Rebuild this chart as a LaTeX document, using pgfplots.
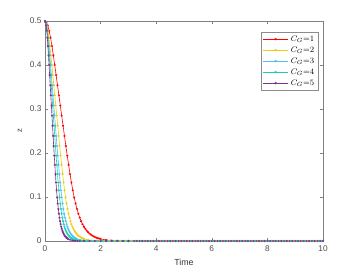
\documentclass[border=0pt]{standalone}
\usepackage{pgfplots}
\pgfplotsset{compat=1.18}
\usepackage{fontspec}
\newfontfamily\arial{Liberation Sans}
\definecolor{cR}{rgb}{1,0,0}
\definecolor{cY}{rgb}{0.93,0.80,0.05}
\definecolor{cC}{rgb}{0.30,0.75,0.93}
\definecolor{cT}{rgb}{0.10,0.82,0.70}
\definecolor{cP}{rgb}{0.494,0.184,0.556}
\begin{document}
\begin{tikzpicture}[x=1pt,y=1pt]
\useasboundingbox (-45,-34) rectangle (300,241);
\begin{axis}[at={(0,0)}, anchor=south west, scale only axis,
  width=278pt, height=220pt,
  xmin=0, xmax=10, ymin=0, ymax=0.5,
  xtick={0,2,4,6,8,10}, ytick={0,0.1,0.2,0.3,0.4,0.5},
  tick align=inside, major tick length=3pt,
  axis line style={black!50, line width=0.5pt},
  every tick/.style={black!50, line width=0.5pt},
  ticklabel style={font=\arial\fontsize{8.3}{9}\selectfont, text=black!70},
  xticklabel style={yshift=-1pt},
  /pgf/number format/assume math mode=true,
  xlabel={Time}, ylabel={z},
  xlabel style={font=\arial\fontsize{8.8}{10}\selectfont, text=black!80, at={(axis description cs:0.5,-0.095)}, anchor=center},
  ylabel style={font=\arial\fontsize{7.5}{8}\selectfont, text=black!80, at={(axis description cs:-0.09,0.5)}, anchor=center},
  legend style={at={(0.982,0.95)}, anchor=north east, draw=black!45, fill=white, font=\fontsize{8.2}{10}\selectfont, inner sep=1.5pt, row sep=0pt},
  legend cell align=left,
  every axis plot/.append style={line width=0.6pt, mark=asterisk, mark size=1.1pt, mark options={line width=0.4pt}},
]
\addlegendimage{cR, line width=0.8pt, mark=asterisk, mark size=1.3pt, mark repeat=2, mark phase=2, legend image code/.code={\draw plot coordinates {(0cm,0cm) (0.45cm,0cm) (0.9cm,0cm)};}}
\addlegendentry{$C_G$=1}
\addlegendimage{cY, line width=0.8pt, mark=asterisk, mark size=1.3pt, mark repeat=2, mark phase=2, legend image code/.code={\draw plot coordinates {(0cm,0cm) (0.45cm,0cm) (0.9cm,0cm)};}}
\addlegendentry{$C_G$=2}
\addlegendimage{cC, line width=0.8pt, mark=asterisk, mark size=1.3pt, mark repeat=2, mark phase=2, legend image code/.code={\draw plot coordinates {(0cm,0cm) (0.45cm,0cm) (0.9cm,0cm)};}}
\addlegendentry{$C_G$=3}
\addlegendimage{cT, line width=0.8pt, mark=asterisk, mark size=1.3pt, mark repeat=2, mark phase=2, legend image code/.code={\draw plot coordinates {(0cm,0cm) (0.45cm,0cm) (0.9cm,0cm)};}}
\addlegendentry{$C_G$=4}
\addlegendimage{cP, line width=0.8pt, mark=asterisk, mark size=1.3pt, mark repeat=2, mark phase=2, legend image code/.code={\draw plot coordinates {(0cm,0cm) (0.45cm,0cm) (0.9cm,0cm)};}}
\addlegendentry{$C_G$=5}
\addplot[cR, forget plot] table {
0 0.500
0.05 0.497
0.10 0.490
0.15 0.478
0.20 0.462
0.25 0.443
0.30 0.422
0.35 0.400
0.40 0.377
0.45 0.354
0.50 0.331
0.55 0.308
0.60 0.285
0.65 0.262
0.70 0.239
0.75 0.216
0.80 0.194
0.85 0.173
0.90 0.152
0.95 0.133
1.00 0.115
1.05 0.099
1.10 0.085
1.15 0.073
1.20 0.062
1.25 0.053
1.30 0.045
1.35 0.038
1.40 0.0325
1.45 0.0278
1.50 0.0235
1.55 0.0200
1.60 0.0170
1.65 0.0145
1.70 0.0123
1.75 0.0105
1.80 0.0089
1.85 0.0076
1.90 0.0064
1.95 0.0055
2.00 0.0046
2.2 0.0024
2.4 0.0012
2.6 0.0006
2.8 0.0003
3.0 0.00015
3.2 0
3.4 0
3.6 0
3.8 0
4.0 0
4.2 0
4.4 0
4.6 0
4.8 0
5.0 0
5.2 0
5.4 0
5.6 0
5.8 0
6.0 0
6.2 0
6.4 0
6.6 0
6.8 0
7.0 0
7.2 0
7.4 0
7.6 0
7.8 0
8.0 0
8.2 0
8.4 0
8.6 0
8.8 0
9.0 0
9.2 0
9.4 0
9.6 0
9.8 0
10.0 0
};
\addplot[cY, forget plot] table {
0 0.500
0.035 0.497
0.070 0.490
0.106 0.478
0.141 0.462
0.176 0.443
0.211 0.422
0.246 0.400
0.282 0.377
0.317 0.354
0.352 0.331
0.387 0.308
0.423 0.285
0.458 0.262
0.493 0.239
0.528 0.216
0.563 0.194
0.599 0.173
0.634 0.152
0.669 0.133
0.704 0.115
0.739 0.099
0.775 0.085
0.810 0.073
0.845 0.062
0.880 0.053
0.915 0.045
0.951 0.038
0.986 0.0325
1.021 0.0278
1.056 0.0235
1.092 0.0200
1.127 0.0170
1.162 0.0145
1.197 0.0123
1.232 0.0105
1.268 0.0089
1.303 0.0076
1.338 0.0064
1.373 0.0055
1.408 0.0046
1.549 0.0024
1.690 0.0012
1.831 0.0006
1.972 0.0003
2.113 0.00015
2.3 0
2.5 0
2.7 0
2.9 0
3.1 0
3.3 0
3.5 0
3.7 0
3.9 0
4.1 0
4.3 0
4.5 0
4.7 0
4.9 0
5.1 0
5.3 0
5.5 0
5.7 0
5.9 0
6.1 0
6.3 0
6.5 0
6.7 0
6.9 0
7.1 0
7.3 0
7.5 0
7.7 0
7.9 0
8.1 0
8.3 0
8.5 0
8.7 0
8.9 0
9.1 0
9.3 0
9.5 0
9.7 0
9.9 0
10.0 0
};
\addplot[cC, forget plot] table {
0 0.500
0.029 0.497
0.057 0.490
0.086 0.478
0.115 0.462
0.144 0.443
0.172 0.422
0.201 0.400
0.230 0.377
0.259 0.354
0.287 0.331
0.316 0.308
0.345 0.285
0.374 0.262
0.402 0.239
0.431 0.216
0.460 0.194
0.489 0.173
0.517 0.152
0.546 0.133
0.575 0.115
0.603 0.099
0.632 0.085
0.661 0.073
0.690 0.062
0.718 0.053
0.747 0.045
0.776 0.038
0.805 0.0325
0.833 0.0278
0.862 0.0235
0.891 0.0200
0.920 0.0170
0.948 0.0145
0.977 0.0123
1.006 0.0105
1.034 0.0089
1.063 0.0076
1.092 0.0064
1.121 0.0055
1.149 0.0046
1.264 0.0024
1.379 0.0012
1.494 0.0006
1.609 0.0003
1.724 0.00015
1.9 0
2.1 0
2.35 0
2.55 0
2.75 0
2.95 0
3.15 0
3.35 0
3.55 0
3.75 0
3.95 0
4.15 0
4.35 0
4.55 0
4.75 0
4.95 0
5.15 0
5.35 0
5.55 0
5.75 0
5.95 0
6.15 0
6.35 0
6.55 0
6.75 0
6.95 0
7.15 0
7.35 0
7.55 0
7.75 0
7.95 0
8.15 0
8.35 0
8.55 0
8.75 0
8.95 0
9.15 0
9.35 0
9.55 0
9.75 0
9.95 0
10.0 0
};
\addplot[cT, forget plot] table {
0 0.500
0.025 0.497
0.050 0.490
0.075 0.478
0.100 0.462
0.125 0.443
0.150 0.422
0.175 0.400
0.200 0.377
0.225 0.354
0.250 0.331
0.275 0.308
0.300 0.285
0.325 0.262
0.350 0.239
0.375 0.216
0.400 0.194
0.425 0.173
0.450 0.152
0.475 0.133
0.500 0.115
0.525 0.099
0.550 0.085
0.575 0.073
0.600 0.062
0.625 0.053
0.650 0.045
0.675 0.038
0.700 0.0325
0.725 0.0278
0.750 0.0235
0.775 0.0200
0.800 0.0170
0.825 0.0145
0.850 0.0123
0.875 0.0105
0.900 0.0089
0.925 0.0076
0.950 0.0064
0.975 0.0055
1.000 0.0046
1.1 0.0024
1.2 0.0012
1.3 0.0006
1.4 0.0003
1.5 0.00015
1.65 0
1.85 0
2.05 0
2.25 0
2.45 0
2.65 0
2.85 0
3.05 0
3.25 0
3.45 0
3.65 0
3.85 0
4.05 0
4.25 0
4.45 0
4.65 0
4.85 0
5.05 0
5.25 0
5.45 0
5.65 0
5.85 0
6.05 0
6.25 0
6.45 0
6.65 0
6.85 0
7.05 0
7.25 0
7.45 0
7.65 0
7.85 0
8.05 0
8.25 0
8.45 0
8.65 0
8.85 0
9.05 0
9.25 0
9.45 0
9.65 0
9.85 0
10.0 0
};
\addplot[cP, forget plot] table {
0 0.500
0.0208 0.497
0.0417 0.490
0.0625 0.478
0.0833 0.462
0.1042 0.443
0.1250 0.422
0.1458 0.400
0.1667 0.377
0.1875 0.354
0.2083 0.331
0.2292 0.308
0.2500 0.285
0.2708 0.262
0.2917 0.239
0.3125 0.216
0.3333 0.194
0.3542 0.173
0.3750 0.152
0.3958 0.133
0.4167 0.115
0.4375 0.099
0.4583 0.085
0.4792 0.073
0.5000 0.062
0.5208 0.053
0.5417 0.045
0.5625 0.038
0.5833 0.0325
0.6042 0.0278
0.6250 0.0235
0.6458 0.0200
0.6667 0.0170
0.6875 0.0145
0.7083 0.0123
0.7292 0.0105
0.7500 0.0089
0.7708 0.0076
0.7917 0.0064
0.8125 0.0055
0.8333 0.0046
0.9167 0.0024
1.0000 0.0012
1.0833 0.0006
1.1667 0.0003
1.2500 0.00015
1.4 0
1.6 0
1.8 0
2.0 0
2.2 0
2.4 0
2.6 0
2.8 0
3.0 0
3.3 0
3.5 0
3.7 0
3.9 0
4.1 0
4.3 0
4.5 0
4.7 0
4.9 0
5.1 0
5.3 0
5.5 0
5.7 0
5.9 0
6.1 0
6.3 0
6.5 0
6.7 0
6.9 0
7.1 0
7.3 0
7.5 0
7.7 0
7.9 0
8.1 0
8.3 0
8.5 0
8.7 0
8.9 0
9.1 0
9.3 0
9.5 0
9.7 0
9.9 0
10.0 0
};
\end{axis}
\end{tikzpicture}
\end{document}
